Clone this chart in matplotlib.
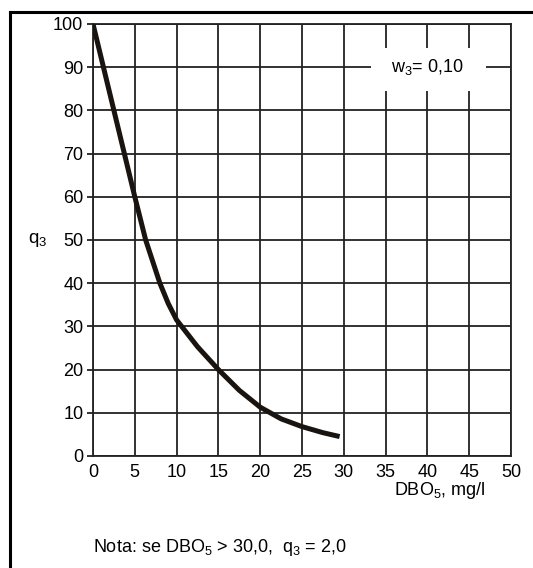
import matplotlib.pyplot as plt
from matplotlib.patches import Rectangle

plt.rcParams['font.family'] = ['Liberation Sans', 'DejaVu Sans']
plt.rcParams['mathtext.default'] = 'regular'

# Curve: DBO5 (mg/l) vs q3
dbo = [0, 1.25, 2.5, 3.75, 5, 6.3, 8.0, 9.0, 10, 12.5, 15, 17.5, 20, 22.5, 25, 27.5, 29.5]
q3 = [100, 90, 80, 70, 60, 50, 40, 35.3, 31.5, 25.3, 20, 15.2, 11.3, 8.6, 6.8, 5.4, 4.5]

x_ticks = [0, 5, 10, 15, 20, 25, 30, 35, 40, 45, 50]
y_ticks = [0, 10, 20, 30, 40, 50, 60, 70, 80, 90, 100]

fig = plt.figure(figsize=(5.33, 5.68), dpi=100)
ax = fig.add_axes([93 / 533, 112 / 568, 418 / 533, 432 / 568])

ax.set_xlim(0, 50)
ax.set_ylim(0, 100)
ax.set_xticks(x_ticks)
ax.set_yticks(y_ticks)
ax.tick_params(axis='x', length=0, pad=6, labelsize=13)
ax.tick_params(axis='y', length=4, width=1.3, color='#222222', pad=3, labelsize=13)
ax.grid(True, color='#222222', linewidth=1.3)
ax.set_axisbelow(True)
for sp in ax.spines.values():
    sp.set_color('#222222')
    sp.set_linewidth(1.3)

# the curve
ax.plot(dbo, q3, color='#1a1410', linewidth=3.6, solid_joinstyle='round',
        solid_capstyle='butt', zorder=3)

# white patch behind the label, cuts the grid
ax.add_patch(Rectangle((33.2, 84.4), 13.8, 10.0, facecolor='white',
                       edgecolor='none', zorder=2.5))
ax.text(40, 90, 'w$_3$= 0,10', ha='center', va='center', fontsize=13, zorder=4)

ax.text(0.83, -0.08, 'DBO$_5$, mg/l', transform=ax.transAxes,
        ha='center', va='center', fontsize=13)
fig.text(38 / 533, 1 - 240 / 568, 'q$_3$', ha='center', va='center', fontsize=13.5)
fig.text(93 / 533, 1 - 548 / 568, 'Nota: se DBO$_5$ > 30,0,  q$_3$ = 2,0',
         ha='left', va='center', fontsize=13)

# outer frame (only left and top edges are visible)
fig.add_artist(plt.Line2D([10 / 533, 10 / 533], [0, 1 - 12 / 568],
                          color='black', linewidth=2.2, transform=fig.transFigure))
fig.add_artist(plt.Line2D([10 / 533, 1], [1 - 12 / 568, 1 - 12 / 568],
                          color='black', linewidth=2.2, transform=fig.transFigure))

plt.savefig('out.png', dpi=100)
